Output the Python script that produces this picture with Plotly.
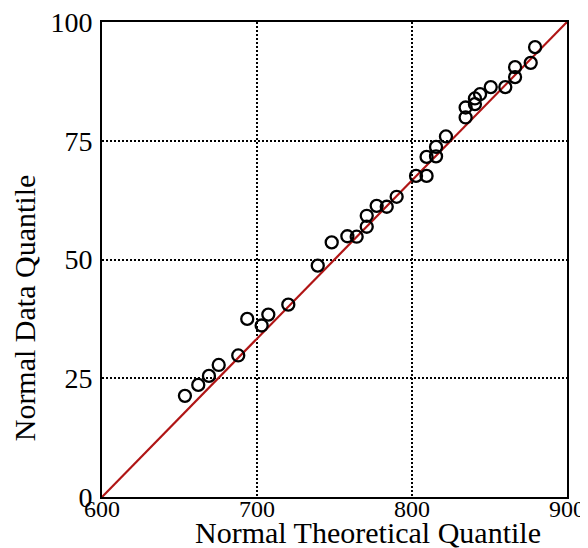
import plotly.graph_objects as go

theoretical = [653.5, 662.1, 669.0, 675.3, 687.9, 693.7, 703.0, 707.3, 720.2, 739.2,
               748.2, 758.3, 764.3, 770.8, 770.8, 777.2, 783.7, 790.1, 802.6, 809.4,
               809.4, 815.5, 815.5, 821.9, 834.6, 834.6, 840.6, 840.6, 843.9, 850.8,
               860.2, 866.5, 866.5, 876.6, 879.4]
data_q = [21.3, 23.6, 25.5, 27.8, 29.8, 37.5, 36.1, 38.4, 40.5, 48.7,
          53.6, 54.9, 54.8, 56.9, 59.2, 61.3, 61.1, 63.2, 67.6, 67.6,
          71.6, 71.7, 73.7, 75.9, 79.9, 82.0, 82.7, 83.9, 84.8, 86.3,
          86.3, 88.4, 90.5, 91.4, 94.7]
ref_x = [600, 900]
ref_y = [0, 100]
x_ticks = [600, 700, 800, 900]
y_ticks = [0, 25, 50, 75, 100]
x_title = "Normal Theoretical Quantile"
y_title = "Normal Data Quantile"

font = "Liberation Serif, Times New Roman, serif"

fig = go.Figure()
fig.add_trace(go.Scatter(x=ref_x, y=ref_y, mode="lines",
                         line=dict(color="#b01515", width=2.2), showlegend=False))
fig.add_trace(go.Scatter(x=theoretical, y=data_q, mode="markers",
                         marker=dict(symbol="circle-open", size=12, color="black",
                                     line=dict(width=2.3, color="black")),
                         showlegend=False))

axis_common = dict(showline=True, linecolor="black", linewidth=2, mirror=True,
                   showgrid=True, gridcolor="black", gridwidth=1.5, griddash="2px,2px",
                   zeroline=False, ticks="", automargin=False, ticklabeloverflow="allow")
fig.update_xaxes(range=[600, 900], tickvals=x_ticks, ticktext=[str(v) for v in x_ticks],
                 tickfont=dict(family=font, size=24, color="black"),
                 ticklabelstandoff=-11,
                 **axis_common)
fig.update_yaxes(range=[0, 100], tickvals=y_ticks, ticktext=[str(v) for v in y_ticks],
                 tickfont=dict(family=font, size=28, color="black"),
                 ticklabelstandoff=2,
                 **axis_common)
fig.add_annotation(text=x_title, xref="paper", yref="paper", x=0.572, y=-0.075,
                   xanchor="center", yanchor="middle", showarrow=False,
                   font=dict(family=font, size=30, color="black"))
fig.add_annotation(text=y_title, xref="paper", yref="paper", x=-0.166, y=0.399,
                   xanchor="center", yanchor="middle", showarrow=False, textangle=-90,
                   font=dict(family=font, size=30, color="black"))
fig.update_layout(width=580, height=540, margin=dict(l=94, r=21, t=14, b=51),
                  plot_bgcolor="white", paper_bgcolor="white")
fig.write_html("out.html")
